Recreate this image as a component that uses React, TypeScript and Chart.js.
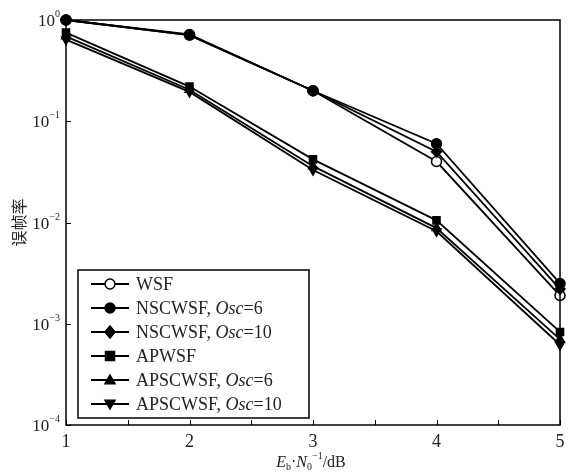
import React, { useEffect, useRef } from "react";
import { Chart, registerables } from "chart.js";
Chart.register(...registerables);

const xValues = [1, 2, 3, 4, 5];
const wsf = [1.0, 0.71, 0.2, 0.04, 0.0019];
const nscwsf6 = [1.0, 0.72, 0.2, 0.06, 0.0025];
const nscwsf10 = [1.0, 0.71, 0.2, 0.05, 0.0022];
const apwsf = [0.75, 0.22, 0.042, 0.0105, 0.00083];
const apscwsf6 = [0.69, 0.205, 0.036, 0.0088, 0.0007];
const apscwsf10 = [0.64, 0.195, 0.033, 0.0082, 0.00062];

const seriesNames = ["WSF", "NSCWSF, Osc=6", "NSCWSF, Osc=10", "APWSF", "APSCWSF, Osc=6", "APSCWSF, Osc=10"];
const drawOrder = [2, 0, 1, 3, 4, 5];
const yTickValues = [1, 0.1, 0.01, 0.001, 0.0001];
const yTickExponents = ["0", "\u22121", "\u22122", "\u22123", "\u22124"];
const yTitle = "误帧率";

const SERIF = '"Liberation Serif", "Times New Roman", "DejaVu Serif", serif';

type Marker = { style: string; fill: boolean; rot: number };
const markers: Marker[] = [
  { style: "circle", fill: false, rot: 0 },
  { style: "circle", fill: true, rot: 0 },
  { style: "rectRot", fill: true, rot: 0 },
  { style: "rect", fill: true, rot: 0 },
  { style: "triangle", fill: true, rot: 0 },
  { style: "triangle", fill: true, rot: 180 },
];

function drawMarker(ctx: CanvasRenderingContext2D, m: Marker, x: number, y: number, r: number) {
  ctx.save();
  ctx.beginPath();
  if (m.style === "circle") {
    ctx.arc(x, y, r, 0, Math.PI * 2);
  } else if (m.style === "rectRot") {
    ctx.moveTo(x, y - r * 1.2);
    ctx.lineTo(x + r, y);
    ctx.lineTo(x, y + r * 1.2);
    ctx.lineTo(x - r, y);
    ctx.closePath();
  } else if (m.style === "rect") {
    const s = r * 0.9;
    ctx.rect(x - s, y - s, 2 * s, 2 * s);
  } else if (m.style === "triangle") {
    const d = m.rot === 180 ? -1 : 1;
    ctx.moveTo(x, y - d * r);
    ctx.lineTo(x + r, y + d * r * 0.75);
    ctx.lineTo(x - r, y + d * r * 0.75);
    ctx.closePath();
  }
  ctx.fillStyle = m.fill ? "#000" : "#fff";
  ctx.fill();
  ctx.lineWidth = 1.5;
  ctx.strokeStyle = "#000";
  ctx.stroke();
  ctx.restore();
}

const decorPlugin = {
  id: "decor",
  afterDraw(chart: any) {
    const ctx: CanvasRenderingContext2D = chart.ctx;
    const { left, right, top, bottom } = chart.chartArea;
    const xs = chart.scales.x;
    const ys = chart.scales.y;
    ctx.save();
    ctx.strokeStyle = "#000";
    ctx.lineWidth = 1.5;
    ctx.strokeRect(left, top, right - left, bottom - top);
    ctx.lineWidth = 1;
    for (let v = 1; v <= 5.001; v += 0.5) {
      const px = Math.round(xs.getPixelForValue(v)) + 0.5;
      ctx.beginPath();
      ctx.moveTo(px, bottom);
      ctx.lineTo(px, bottom - 5);
      ctx.stroke();
    }
    yTickValues.forEach((v, i) => {
      const py = Math.round(ys.getPixelForValue(v)) + 0.5;
      ctx.beginPath();
      ctx.moveTo(left, py);
      ctx.lineTo(left + 5, py);
      ctx.stroke();
      ctx.fillStyle = "#222";
      ctx.textBaseline = "middle";
      ctx.font = "10px " + SERIF;
      const ew = ctx.measureText(yTickExponents[i]).width;
      ctx.textAlign = "left";
      ctx.fillText(yTickExponents[i], left - 6 - ew, py - 6);
      ctx.font = "17px " + SERIF;
      ctx.textAlign = "right";
      ctx.fillText("10", left - 6 - ew, py + 1);
    });
    ctx.save();
    ctx.translate(19, (top + bottom) / 2);
    ctx.rotate(-Math.PI / 2);
    ctx.font = '16px "Noto Sans CJK SC", serif';
    ctx.textAlign = "center";
    ctx.textBaseline = "middle";
    ctx.fillStyle = "#222";
    ctx.fillText(yTitle, 0, 0);
    ctx.restore();
    const parts: { t: string; f: string; dy: number }[] = [
      { t: "E", f: "italic 16px " + SERIF, dy: 0 },
      { t: "b", f: "10px " + SERIF, dy: 4 },
      { t: "\u00b7", f: "16px " + SERIF, dy: 0 },
      { t: "N", f: "italic 16px " + SERIF, dy: 0 },
      { t: "0", f: "10px " + SERIF, dy: 4 },
      { t: "\u22121", f: "10px " + SERIF, dy: -7 },
      { t: "/dB", f: "16px " + SERIF, dy: 0 },
    ];
    let tw = 0;
    parts.forEach((p) => {
      ctx.font = p.f;
      tw += ctx.measureText(p.t).width;
    });
    let cx = (left + right) / 2 - tw / 2 - 2;
    const ty = 463;
    ctx.textAlign = "left";
    ctx.textBaseline = "middle";
    ctx.fillStyle = "#222";
    parts.forEach((p) => {
      ctx.font = p.f;
      ctx.fillText(p.t, cx, ty + p.dy);
      cx += ctx.measureText(p.t).width;
    });
    const lx = 78, ly = 270, lw = 231, lh = 148;
    ctx.fillStyle = "#fff";
    ctx.fillRect(lx, ly, lw, lh);
    ctx.lineWidth = 1.5;
    ctx.strokeStyle = "#000";
    ctx.strokeRect(lx, ly, lw, lh);
    seriesNames.forEach((name, i) => {
      const ry = 284 + i * 24;
      ctx.lineWidth = 1.8;
      ctx.beginPath();
      ctx.moveTo(91, ry);
      ctx.lineTo(129, ry);
      ctx.stroke();
      drawMarker(ctx, markers[i], 110, ry, 5);
      const m = name.match(/^(.*, )(Osc)(=.*)$/);
      const segs = m ? [[m[1], false], [m[2], true], [m[3], false]] : [[name, false]];
      let tx = 136;
      ctx.fillStyle = "#222";
      ctx.textBaseline = "middle";
      ctx.textAlign = "left";
      segs.forEach(([s, it]: any) => {
        ctx.font = (it ? "italic " : "") + "18px " + SERIF;
        ctx.fillText(s, tx, ry + 1);
        tx += ctx.measureText(s).width;
      });
    });
    ctx.restore();
  },
};

const allSeries = [wsf, nscwsf6, nscwsf10, apwsf, apscwsf6, apscwsf10];

export default function App() {
  const ref = useRef<HTMLCanvasElement>(null);
  useEffect(() => {
    const chart = new Chart(ref.current!, {
      type: "line",
      data: {
        datasets: allSeries.map((s, i) => ({
          label: seriesNames[i],
          data: xValues.map((x, j) => ({ x, y: s[j] })),
          order: drawOrder[i],
          borderColor: "#000",
          borderWidth: 1.8,
          pointRadius: 5,
          pointStyle: markers[i].style as any,
          pointRotation: markers[i].rot,
          pointBackgroundColor: markers[i].fill ? "#000" : "#fff",
          pointBorderColor: "#000",
          pointBorderWidth: 1.5,
          clip: false as any,
        })),
      },
      options: {
        animation: false,
        responsive: false,
        layout: { padding: { top: 20, right: 21, left: 0, bottom: 0 } },
        plugins: { legend: { display: false }, tooltip: { enabled: false } },
        scales: {
          x: {
            type: "linear",
            min: 1,
            max: 5,
            grid: { display: false, drawTicks: false },
            border: { display: false },
            ticks: {
              stepSize: 0.5,
              padding: 6,
              color: "#222",
              font: { family: SERIF, size: 18 },
              maxRotation: 0,
              autoSkip: false,
              callback: (v: any) => (Number.isInteger(v) ? String(v) : ""),
            },
            afterFit: (s: any) => {
              s.height = 47;
            },
          },
          y: {
            type: "logarithmic",
            min: 0.0001,
            max: 1,
            grid: { display: false, drawTicks: false },
            border: { display: false },
            ticks: { display: false },
            afterBuildTicks: (s: any) => {
              s.ticks = yTickValues.map((v) => ({ value: v }));
            },
            afterFit: (s: any) => {
              s.width = 66;
            },
          },
        },
      },
      plugins: [decorPlugin],
    });
    return () => chart.destroy();
  }, []);
  return (
    <div style={{ position: "fixed", left: 0, top: 0, width: 581, height: 472, background: "#fff" }}>
      <canvas ref={ref} width={581} height={472} style={{ display: "block" }} />
    </div>
  );
}
